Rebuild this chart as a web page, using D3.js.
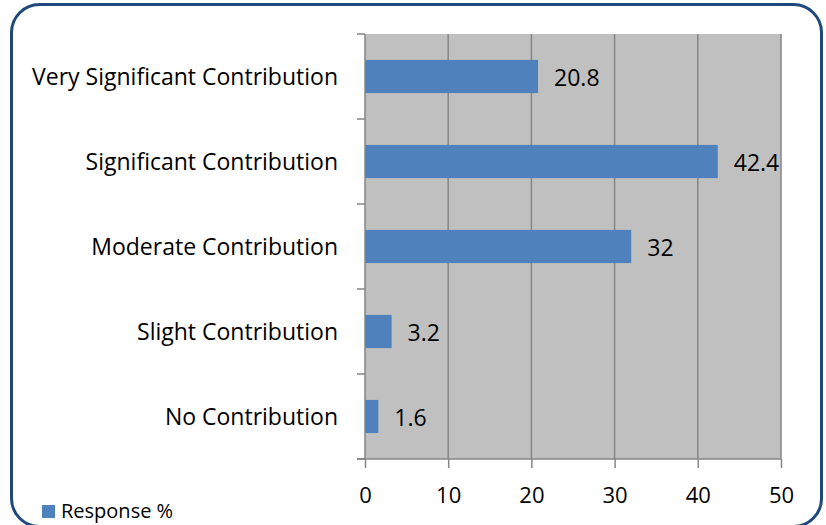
<!DOCTYPE html>
<html><head><meta charset="utf-8">
<script src="https://cdn.jsdelivr.net/npm/d3@7"></script>
<style>html,body{margin:0;padding:0;background:#fff;}svg{display:block;}</style>
</head><body>
<script>
const categories = ["Very Significant Contribution","Significant Contribution","Moderate Contribution","Slight Contribution","No Contribution"];
const values = [20.8, 42.4, 32, 3.2, 1.6];
const xTicks = [0, 10, 20, 30, 40, 50];
const seriesName = "Response %";

(function () {
const W = 826, H = 525;
const FONT = "'Open Sans', 'Liberation Sans', sans-serif";
const svg = d3.select("body").append("svg").attr("width", W).attr("height", H);

svg.append("rect").attr("x", 11.5).attr("y", 4.5).attr("width", 810).attr("height", 522)
  .attr("rx", 28).attr("ry", 28).attr("fill", "#fff").attr("stroke", "#1F497D").attr("stroke-width", 3);

const pL = 365, pR = 781, pT = 34, pB = 459;
const x = d3.scaleLinear().domain([0, 50]).range([pL, pR]);
const y = d3.scaleBand().domain(categories).range([pT, pB]).paddingInner(0.61).paddingOuter(0.305);
const yb = d3.scaleBand().domain(categories).range([pT, pB]);

svg.append("rect").attr("x", pL).attr("y", pT).attr("width", pR - pL).attr("height", pB - pT).attr("fill", "#C0C0C0");

svg.append("g").selectAll("line").data(xTicks.slice(1)).join("line")
  .attr("x1", d => x(d)).attr("x2", d => x(d)).attr("y1", pT).attr("y2", pB)
  .attr("stroke", "#868686").attr("stroke-width", 1.5);

svg.append("g").selectAll("rect").data(values).join("rect")
  .attr("x", x(0)).attr("y", (d, i) => y(categories[i])).attr("height", y.bandwidth())
  .attr("width", d => x(d) - x(0)).attr("fill", "#4F81BD");

// y axis
const gy = svg.append("g");
gy.append("line").attr("x1", pL).attr("x2", pL).attr("y1", pT).attr("y2", pB).attr("stroke", "#868686").attr("stroke-width", 1.5);
const yTickPos = categories.map(c => yb(c)).concat([pB]);
gy.selectAll("line.t").data(yTickPos).join("line").attr("class", "t")
  .attr("x1", pL - 8).attr("x2", pL).attr("y1", d => d).attr("y2", d => d)
  .attr("stroke", "#868686").attr("stroke-width", 1.5);
gy.selectAll("text").data(categories).join("text")
  .attr("x", 338).attr("y", d => yb(d) + yb.bandwidth() / 2).attr("dy", "0.36em")
  .attr("text-anchor", "end").attr("font-family", FONT).attr("font-size", 23).attr("fill", "#000").text(d => d);

// x axis
const gx = svg.append("g").attr("transform", `translate(0,${pB})`)
  .call(d3.axisBottom(x).tickValues(xTicks).tickSize(9).tickPadding(19));
gx.select(".domain").attr("stroke", "#868686").attr("stroke-width", 1.5).attr("d", `M${pL - 8},0H${pR}`);
gx.selectAll(".tick line").attr("stroke", "#868686").attr("stroke-width", 1.5);
gx.selectAll(".tick text").attr("font-family", FONT).attr("font-size", 22).attr("fill", "#000");

// value labels
svg.append("g").selectAll("text").data(values).join("text")
  .attr("x", d => x(d) + 16).attr("y", (d, i) => y(categories[i]) + y.bandwidth() / 2).attr("dy", "0.43em")
  .attr("font-family", FONT).attr("font-size", 23).attr("fill", "#000").text(d => d);

// legend
svg.append("rect").attr("x", 42).attr("y", 505).attr("width", 13).attr("height", 13).attr("fill", "#4F81BD");
svg.append("text").attr("x", 61).attr("y", 518).attr("font-family", FONT).attr("font-size", 20).attr("fill", "#000").text(seriesName);
})();
</script>
</body></html>
